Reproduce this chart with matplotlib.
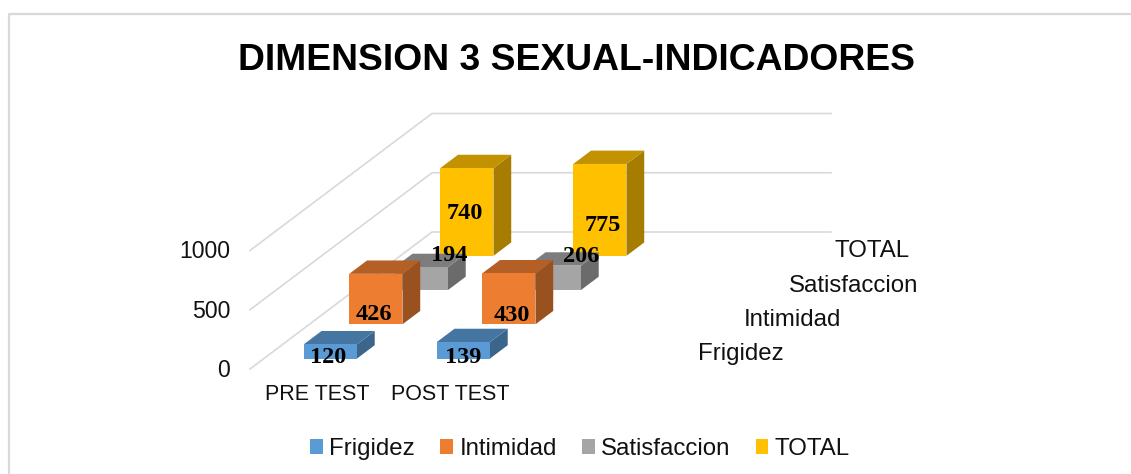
#!/usr/bin/env python3
import matplotlib
matplotlib.use("Agg")
import matplotlib.pyplot as plt
from matplotlib.patches import Patch, Polygon
from matplotlib.colors import to_rgb

categorias = ["PRE TEST", "POST TEST"]
series = ["Frigidez", "Intimidad", "Satisfaccion", "TOTAL"]
frigidez = [120, 139]
intimidad = [426, 430]
satisfaccion = [194, 206]
total = [740, 775]
valores = [frigidez, intimidad, satisfaccion, total]
ticks = [0, 500, 1000]
colores = ["#5B9BD5", "#ED7D31", "#A5A5A5", "#FFC000"]

# proyeccion oblicua en pixeles, como el grafico 3D de Excel
X0, Y0 = 250, 369
DX_CAT, DX_SER, DY_SER, DY_VAL = 133, 45.5, 34.25, 0.1185
N_CAT = 3
BAR_W, BAR_D = 0.40, 0.39
GRID = "#D9D9D9"

def proj(c, s, v=0):
    return X0 + DX_CAT * c + DX_SER * s, Y0 - DY_SER * s - DY_VAL * v

def shade(col, k):
    return tuple(x * k for x in to_rgb(col))

def bar3d(ax, c, s, v, col):
    x0, x1 = c + .5 - BAR_W / 2, c + .5 + BAR_W / 2
    s0, s1 = s + .5 - BAR_D / 2, s + .5 + BAR_D / 2
    front = [proj(x0, s0), proj(x1, s0), proj(x1, s0, v), proj(x0, s0, v)]
    side = [proj(x1, s0), proj(x1, s1), proj(x1, s1, v), proj(x1, s0, v)]
    top = [proj(x0, s0, v), proj(x1, s0, v), proj(x1, s1, v), proj(x0, s1, v)]
    ax.add_patch(Polygon(side, fc=shade(col, .65), ec="none", zorder=3))
    ax.add_patch(Polygon(top, fc=shade(col, .76), ec="none", zorder=3))
    ax.add_patch(Polygon(front, fc=col, ec="none", zorder=3))

plt.rcParams["font.family"] = ["Liberation Sans", "DejaVu Sans"]
fig = plt.figure(figsize=(11.31, 4.74), dpi=100, facecolor="white")
ax = fig.add_axes([0, 0, 1, 1])
ax.set_xlim(0, 1131)
ax.set_ylim(474, 0)
ax.axis("off")

# marco del grafico: solo arriba e izquierda quedan dentro del recorte
ax.plot([9, 9, 1131], [474, 14, 14], color=GRID, lw=1.6, zorder=1)

ax.text(577, 60.5, "DIMENSION 3 SEXUAL-INDICADORES", ha="center", va="center",
        fontsize=26.8, fontweight="bold", color="black")

# rejilla: suelo lateral y pared del fondo
for t in ticks:
    a, b, d = proj(0, 0, t), proj(0, len(series), t), proj(N_CAT, len(series), t)
    ax.plot([a[0], b[0], d[0]], [a[1], b[1], d[1]], color=GRID, lw=1.2, zorder=2)
    ax.text(a[0] - 20, a[1] + 1.5, str(t), ha="right", va="center", fontsize=16.6, color="#111111")

# de atras hacia adelante
for s in range(len(series) - 1, -1, -1):
    for c in range(len(categorias)):
        bar3d(ax, c, s, valores[s][c], colores[s])

for c, nom in enumerate(categorias):
    x, y = proj(c + .5, 0)
    ax.text(x + 1, y + 26, nom, ha="center", va="center", fontsize=15.5, color="#111111")

# etiquetas del eje de profundidad
for s, nom in enumerate(series):
    x, y = proj(0, s)
    ax.text(x + 448, y - 15, nom, ha="left", va="center", fontsize=17.3, color="#111111")

# etiquetas de datos, colocadas a mano en el original
desp = [[(-11, 13), (-9, 14)], [(-11, 22), (-6, 23)], [(19, -16), (18, -15)], [(-11, 8), (-6, 22)]]
for s in range(len(series)):
    for c in range(len(categorias)):
        x, y = proj(c + .5, s + .5, valores[s][c] / 2)
        ax.text(x + desp[s][c][0], y + desp[s][c][1], str(valores[s][c]), ha="center", va="center",
                fontsize=17.5, fontweight="bold", color="black", family=["Liberation Serif"], zorder=5)

handles = [Patch(fc=col, ec="none") for col in colores]
fig.legend(handles, series, loc="center", bbox_to_anchor=(580 / 1131, 1 - 449 / 474), ncol=4, frameon=False,
           fontsize=17.3, handlelength=.54, handleheight=.54, handletextpad=.25, columnspacing=1.05,
           labelcolor="#111111", borderpad=0)

fig.savefig("out.png", dpi=100, facecolor="white")
